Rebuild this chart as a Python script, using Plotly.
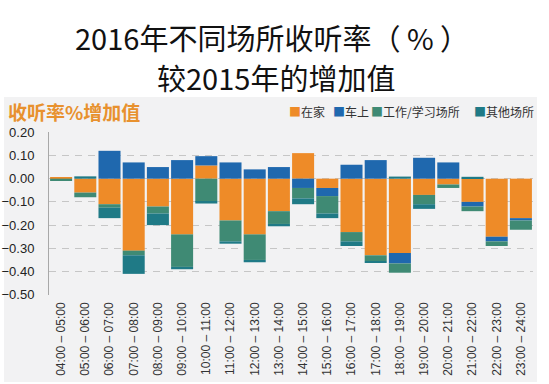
import plotly.graph_objects as go

categories = ["04:00 – 05:00", "05:00 – 06:00", "06:00 – 07:00", "07:00 – 08:00",
              "08:00 – 09:00", "09:00 – 10:00", "10:00 – 11:00", "11:00 – 12:00",
              "12:00 – 13:00", "13:00 – 14:00", "14:00 – 15:00", "15:00 – 16:00",
              "16:00 – 17:00", "17:00 – 18:00", "18:00 – 19:00", "19:00 – 20:00",
              "20:00 – 21:00", "21:00 – 22:00", "22:00 – 23:00", "23:00 – 24:00"]

home = [0.004, -0.06, -0.11, -0.31, -0.12, -0.24, 0.057, -0.18, -0.24, -0.14,
        0.11, -0.04, -0.23, -0.33, -0.32, -0.07, -0.025, -0.10, -0.25, -0.17]
car = [0.0, 0.0, 0.12, 0.07, 0.05, 0.08, 0.04, 0.07, 0.04, 0.05,
       -0.04, -0.035, 0.06, 0.08, -0.045, 0.09, 0.07, -0.02, -0.02, -0.01]
work = [-0.01, -0.02, -0.015, -0.02, -0.03, -0.14, -0.10, -0.09, -0.11, -0.055,
        -0.045, -0.075, -0.04, -0.025, -0.04, -0.04, -0.015, -0.02, -0.02, -0.04]
other = [0.0, 0.01, -0.045, -0.08, -0.05, -0.01, -0.007, -0.01, -0.01, -0.01,
         -0.025, -0.02, -0.02, -0.005, 0.009, -0.02, 0.0, 0.008, 0.0, 0.0]

series_names = ["在家", "车上", "工作/学习场所", "其他场所"]
series_colors = ["#EE8B28", "#1F68AE", "#3F8A74", "#1F7A86"]
y_ticks = [0.2, 0.1, 0.0, -0.1, -0.2, -0.3, -0.4, -0.5]

W, H = 549, 384
ML, MR, MT, MB = 49, 16, 132, 89
PW, PH = W - ML - MR, H - MT - MB


def px_x(p):
    return (p - ML) / PW


def px_y(p):
    return (H - MB - p) / PH


fig = go.Figure()
for name, vals, col in zip(series_names, [home, car, work, other], series_colors):
    fig.add_trace(go.Bar(x=categories, y=vals, name=name, marker_color=col,
                         marker_line_width=0, showlegend=False))

fig.update_layout(
    width=W, height=H,
    margin=dict(l=ML, r=MR, t=MT, b=MB, pad=0, autoexpand=False),
    barmode="relative", bargap=0.09,
    paper_bgcolor="white", plot_bgcolor="rgba(0,0,0,0)",
    font=dict(family="Liberation Sans, Arial", color="#333333"),
)
fig.update_xaxes(showgrid=False, showline=False, zeroline=False, tickangle=-90,
                 tickfont=dict(size=12, color="#333333"), ticks="",
                 ticklabelstandoff=4, automargin=False)
fig.update_yaxes(range=[-0.501, 0.201], tickvals=y_ticks, tickformat=".2f",
                 showgrid=True, gridcolor="#C6C6C6", griddash="7px,6px", gridwidth=1,
                 zeroline=False, showline=True, linecolor="#A8A8A8", linewidth=1,
                 tickfont=dict(size=13, color="#222222"), ticks="",
                 ticklabelstandoff=11, automargin=False)

# grey panel
fig.add_shape(type="rect", xref="paper", yref="paper",
              x0=px_x(4), x1=px_x(537), y0=px_y(382), y1=px_y(97),
              fillcolor="#F2F2F3", line_width=0, layer="below")

# titles
fig.add_annotation(text="2016年不同场所收听率（ % ）", xref="paper", yref="paper",
                   x=px_x(272), y=px_y(37), xanchor="center", yanchor="middle",
                   showarrow=False, font=dict(family="Noto Sans CJK SC", size=29, color="#111111"))
fig.add_annotation(text="较2015年的增加值", xref="paper", yref="paper",
                   x=px_x(276), y=px_y(77), xanchor="center", yanchor="middle",
                   showarrow=False, font=dict(family="Noto Sans CJK SC", size=29, color="#111111"))
fig.add_annotation(text="<b>收听率%增加值</b>", xref="paper", yref="paper",
                   x=px_x(6), y=px_y(111), xanchor="left", yanchor="middle",
                   showarrow=False, font=dict(family="Noto Sans CJK SC", size=19, color="#E8912E"))

# legend
legend_x = [287, 331, 369, 472]
for name, col, lx in zip(series_names, series_colors, legend_x):
    fig.add_annotation(text=f"<span style='color:{col}'>■</span>{name}",
                       xref="paper", yref="paper", x=px_x(lx), y=px_y(111),
                       xanchor="left", yanchor="middle", showarrow=False,
                       font=dict(family="Noto Sans CJK SC", size=12, color="#333333"))

fig.write_html("out.html", config={"displayModeBar": False},
               post_script="document.body.style.margin='0';")
